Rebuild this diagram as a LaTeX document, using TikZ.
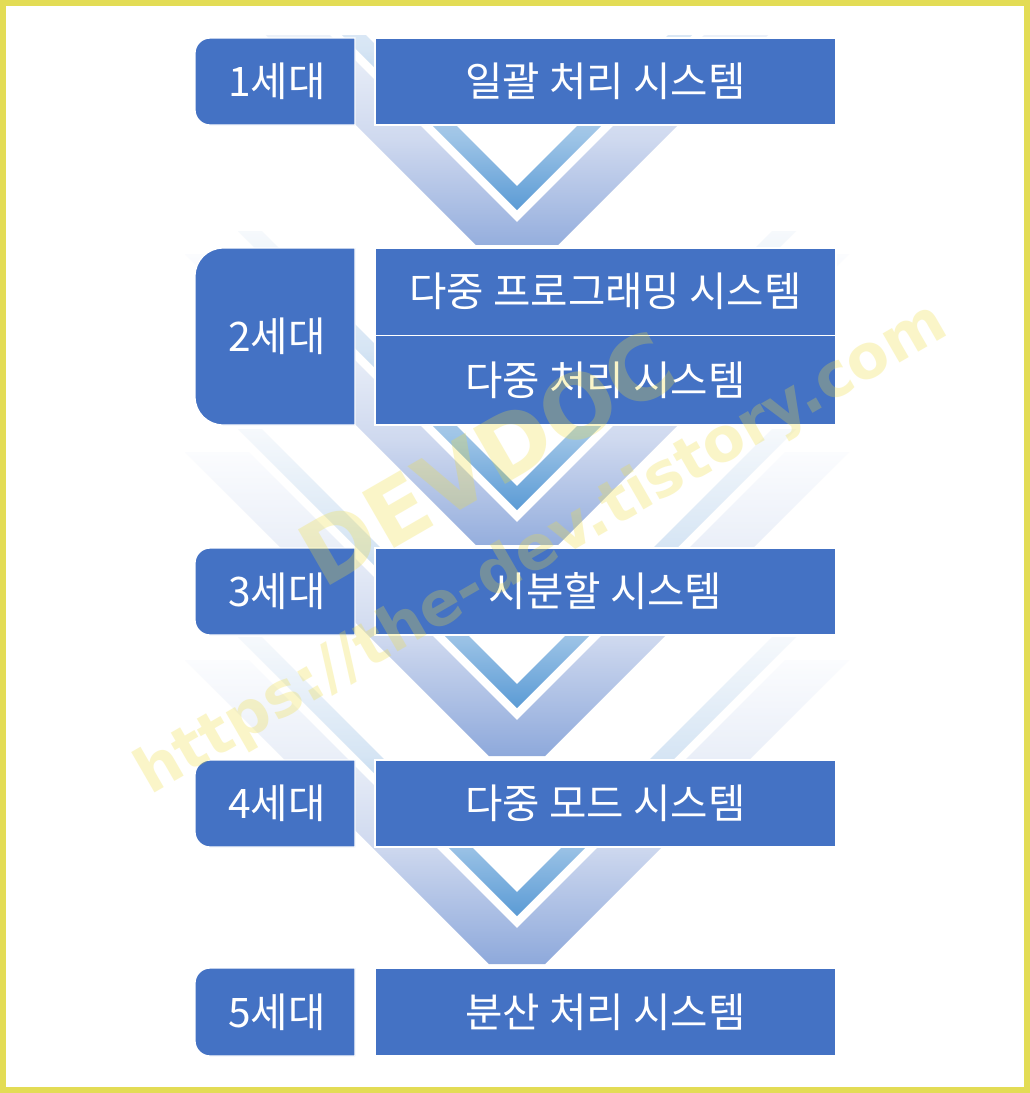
\documentclass[tikz,border=0pt]{standalone}
\usepackage{fontspec}
\newfontfamily\kr{Noto Sans CJK KR}
\newfontfamily\wmfont{DejaVu Sans}
\definecolor{boxblue}{HTML}{4472C4}
\definecolor{frameyellow}{HTML}{E3DC55}
\definecolor{lvA}{HTML}{8EA9DB}
\definecolor{lvB}{HTML}{CFD9EF}
\definecolor{lvC}{HTML}{EAEFF8}
\definecolor{lvD}{HTML}{FBFCFE}
\definecolor{dvA}{HTML}{5B9BD5}
\definecolor{dvB}{HTML}{9CC3E6}
\definecolor{dvC}{HTML}{D6E5F4}
\definecolor{dvD}{HTML}{F6F9FC}
\definecolor{wmyellow}{HTML}{EFDD3C}
\pgfdeclareverticalshading{lightV}{100bp}{color(0bp)=(lvA); color(25bp)=(lvA); color(44.6bp)=(lvB); color(59.4bp)=(lvC); color(75bp)=(lvD); color(100bp)=(lvD)}
\pgfdeclareverticalshading{darkV}{100bp}{color(0bp)=(dvA); color(25bp)=(dvA); color(37.7bp)=(dvB); color(53.9bp)=(dvC); color(75bp)=(dvD); color(100bp)=(dvD)}
\tikzset{
  boxshape/.style={fill=boxblue, draw=white, line width=1},
  lbl/.style={text=white, inner sep=0pt, font=\kr\fontsize{30.5pt}{36pt}\selectfont, text height=25pt, text depth=2pt},
  wmark/.style={text=wmyellow, opacity=0.28, inner sep=0pt, rotate=30}
}
\begin{document}
\begin{tikzpicture}[x=0.75pt,y=-0.75pt]
\fill[frameyellow] (0,0) rectangle (1030,1093);
\fill[white] (6,6) rectangle (1024,1087);
\useasboundingbox (0,0) rectangle (1030,1093);
% chevrons: light V and dark V behind each gap
\foreach \yb/\tp/\s in {248/35/14,548/6/14,760/6/0,968/6/0}{
  \begin{scope}
    \clip (0,\tp) rectangle (1030,\yb-4);
    \shade[shading=lightV] (489,\yb-4+\s) -- (545,\yb-4+\s) -- (849,\yb-308+\s) -- (785,\yb-308+\s)
      -- (517,\yb-40+\s) -- (249,\yb-308+\s) -- (185,\yb-308+\s) -- cycle;
    \shade[shading=darkV] (517,\yb-52+\s) -- (796,\yb-331+\s) -- (772,\yb-331+\s)
      -- (517,\yb-76+\s) -- (262,\yb-331+\s) -- (238,\yb-331+\s) -- cycle;
  \end{scope}
}
% left boxes
\foreach \ya/\yc/\r in {38/125/15,248/425/28,548/635/15,760/847/15,968/1056/15}{
  \path[boxshape] (355,\ya) -- (195+\r,\ya)
    .. controls (195+0.448*\r,\ya) and (195,\ya+0.448*\r) .. (195,\ya+\r)
    -- (195,\yc-\r)
    .. controls (195,\yc-0.448*\r) and (195+0.448*\r,\yc) .. (195+\r,\yc)
    -- (355,\yc) -- cycle;
}
% right boxes
\foreach \ya/\yc in {38/125,248/335.5,335.5/425,548/635,760/847,968/1056}{
  \path[boxshape] (375,\ya) rectangle (836,\yc);
}
% labels
\node[lbl] (g1) at (277,81.5) {1세대};
\node[lbl] (g2) at (277,336.5) {2세대};
\node[lbl] (g3) at (277,591.5) {3세대};
\node[lbl] (g4) at (277,803.5) {4세대};
\node[lbl] (g5) at (277,1012) {5세대};
\node[lbl] (s1) at (605.5,81.5) {일괄 처리 시스템};
\node[lbl] (s2a) at (605.5,291.5) {다중 프로그래밍 시스템};
\node[lbl] (s2b) at (605.5,380.5) {다중 처리 시스템};
\node[lbl] (s3) at (605.5,591.5) {시분할 시스템};
\node[lbl] (s4) at (605.5,803.5) {다중 모드 시스템};
\node[lbl] (s5) at (605.5,1012) {분산 처리 시스템};
% watermark
\node[wmark, font=\wmfont\bfseries\fontsize{66pt}{66pt}\selectfont] (wm1) at (487,458) {DEVDOC};
\node[wmark, font=\wmfont\bfseries\fontsize{46pt}{46pt}\selectfont] (wm2) at (542,550) {https://the-dev.tistory.com};
\end{tikzpicture}
\end{document}
